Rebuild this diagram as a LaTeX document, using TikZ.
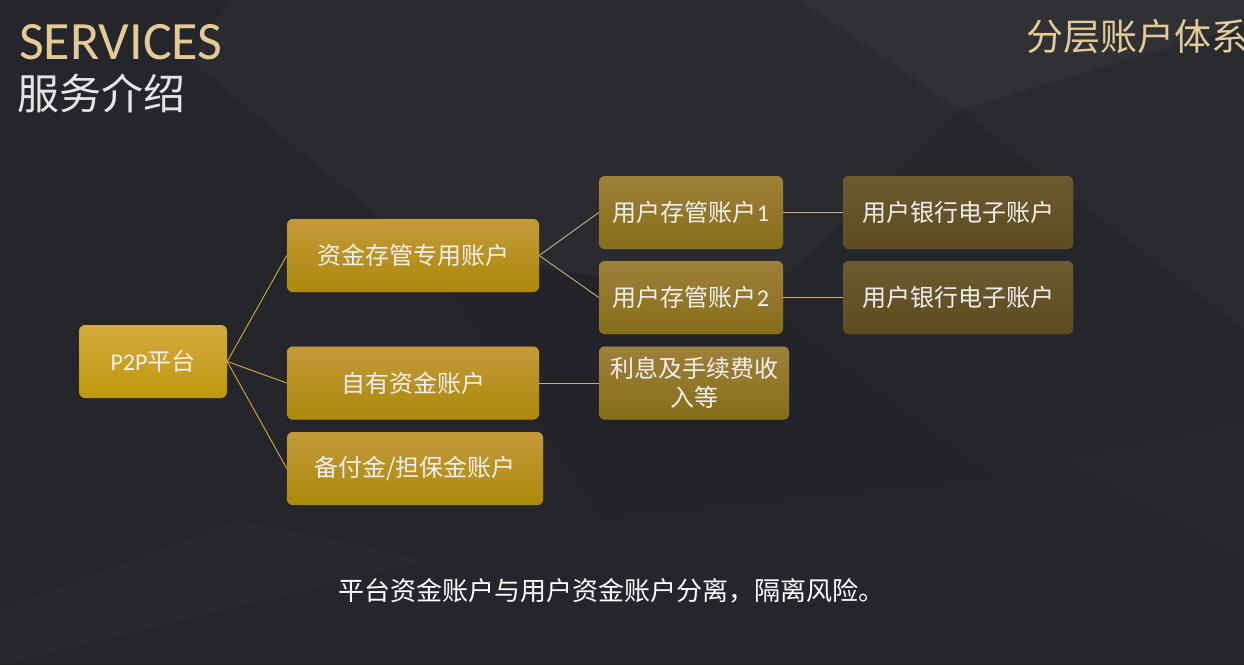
\documentclass[tikz,border=0pt]{standalone}
\usepackage{fontspec}
\setmainfont{Noto Sans CJK SC}
\newfontfamily\latinfont{Carlito}
\usetikzlibrary{positioning}

\definecolor{bgdark}{HTML}{24262B}
\definecolor{titlegold}{HTML}{E4CA96}
\definecolor{linkgold}{HTML}{D8AA3C}
\definecolor{linktan}{HTML}{C4AE86}
\definecolor{roottop}{HTML}{D6AA40}
\definecolor{rootmid}{HTML}{D2A60A}
\definecolor{rootbot}{HTML}{BE980C}
\definecolor{onetop}{HTML}{C49A3A}
\definecolor{onemid}{HTML}{B8940E}
\definecolor{onebot}{HTML}{AC880A}
\definecolor{twotop}{HTML}{9E803A}
\definecolor{twomid}{HTML}{90761E}
\definecolor{twobot}{HTML}{866E18}
\definecolor{threetop}{HTML}{6C5A32}
\definecolor{threebot}{HTML}{5C4C1E}

\tikzset{
  acct/.style={rounded corners=6pt, minimum height=73pt, inner sep=2pt,
    text=white!94!black, align=center, font=\fontsize{24}{29}\selectfont},
  rootbox/.style={acct, top color=roottop, middle color=rootmid, bottom color=rootbot},
  lvlone/.style={acct, top color=onetop, middle color=onemid, bottom color=onebot,
    draw=onetop!70!white, draw opacity=0.35},
  lvltwo/.style={acct, top color=twotop, middle color=twomid, bottom color=twobot,
    draw=twotop!70!white, draw opacity=0.3},
  lvlthree/.style={acct, top color=threetop, bottom color=threebot,
    draw=threetop!70!white, draw opacity=0.3},
  link/.style={draw=linkgold, line width=0.9pt},
  sublink/.style={draw=linktan, line width=0.9pt}
}

\begin{document}
\begin{tikzpicture}[x=1pt, y=-1pt]
    % Background
    \useasboundingbox (0,0) rectangle (1244,665);
    \fill[bgdark] (0,0) rectangle (1244,665);
    \fill[white, opacity=0.025] (230,0) -- (800,0) -- (960,110) -- (760,300) -- (420,250) -- (190,60) -- cycle;
    \fill[white, opacity=0.05] (800,0) -- (1244,0) -- (1244,25) -- (960,110) -- cycle;
    \fill[white, opacity=0.02] (960,110) -- (1244,25) -- (1244,330) -- cycle;
    \fill[black, opacity=0.04] (420,250) -- (760,300) -- (1000,480) -- (600,520) -- cycle;
    \fill[white, opacity=0.015] (0,610) -- (240,520) -- (430,560) -- (0,665) -- cycle;
    \fill[white, opacity=0.012] (1060,460) -- (1244,420) -- (1244,560) -- cycle;

    % Titles
    \node[anchor=west, text=titlegold, inner sep=0pt, font=\fontsize{54}{54}\selectfont\latinfont] (services) at (19,42) {SERVICES};
    \node[anchor=west, text=white!90!black, inner sep=0pt, font=\fontsize{42}{42}\selectfont] (intro) at (17,93) {服务介绍};
    \node[anchor=west, text=titlegold, inner sep=0pt, font=\fontsize{37}{37}\selectfont] (layers) at (1026,37) {分层账户体系};

    % Nodes
    \node[rootbox, minimum width=148pt] (p2p) at (153,361.5) {{\latinfont P2P}平台};
    \node[lvlone, minimum width=252pt] (custody) at (413,255.5) {资金存管专用账户};
    \node[lvlone, minimum width=252pt] (own) at (413,383) {自有资金账户};
    \node[lvlone, minimum width=256pt] (reserve) at (415,468.5) {备付金/担保金账户};
    \node[lvltwo, minimum width=184pt] (user1) at (691,212.5) {用户存管账户{\latinfont 1}};
    \node[lvltwo, minimum width=184pt] (user2) at (691,297.5) {用户存管账户{\latinfont 2}};
    \node[lvltwo, minimum width=190pt] (interest) at (694,383) {利息及手续费收\\入等};
    \node[lvlthree, minimum width=230pt] (bank1) at (958,212.5) {用户银行电子账户};
    \node[lvlthree, minimum width=230pt] (bank2) at (958,297.5) {用户银行电子账户};

    % Text at the bottom
    \node[text=white, font=\fontsize{26}{26}\selectfont] (note) at (611,591) {平台资金账户与用户资金账户分离，隔离风险。};

    % Connection
    \draw[link] (p2p.east) -- (custody.west);
    \draw[link] (p2p.east) -- (own.west);
    \draw[link] (p2p.east) -- (reserve.west);
    \draw[sublink] (custody.east) -- (user1.west);
    \draw[sublink] (custody.east) -- (user2.west);
    \draw[sublink] (own.east) -- (interest.west);
    \draw[sublink] (user1.east) -- (bank1.west);
    \draw[sublink] (user2.east) -- (bank2.west);
  \end{tikzpicture}
\end{document}
